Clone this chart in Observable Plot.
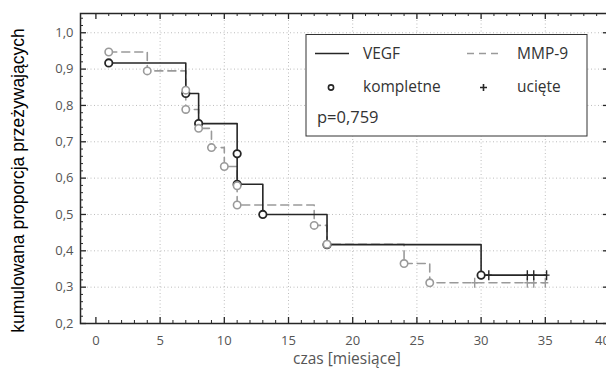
<!DOCTYPE html>
<html><head><meta charset="utf-8">
<script src="https://cdn.jsdelivr.net/npm/d3@7"></script>
<script src="https://cdn.jsdelivr.net/npm/@observablehq/plot@0.6"></script>
<style>
html,body{margin:0;padding:0;overflow:hidden;background:#fff;width:606px;height:374px}
#chart{position:relative;width:606px;height:374px;overflow:hidden}
#chart svg{max-width:none !important;height:374px !important}
</style></head>
<body><div id="chart"></div>
<script>
// ---- data ----
const vegfTime = [1, 7, 8, 11, 11, 13, 18, 30];
const vegfSurv = [0.917, 0.833, 0.75, 0.667, 0.583, 0.5, 0.417, 0.333];
const vegfCensor = [30.6, 33.6, 34.1, 35.1];
const mmpTime = [1, 4, 7, 7, 8, 9, 10, 11, 11, 17, 18, 24, 26];
const mmpSurv = [0.947, 0.895, 0.842, 0.789, 0.737, 0.684, 0.632, 0.579, 0.526, 0.47, 0.418, 0.365, 0.312];
const mmpCensor = [29.5, 33.6, 34.1, 35.0];
const xTicks = [0, 5, 10, 15, 20, 25, 30, 35, 40];
const yTicks = [0.2, 0.3, 0.4, 0.5, 0.6, 0.7, 0.8, 0.9, 1.0];
const seriesNames = ["VEGF", "MMP-9"];
const legendLabels = ["kompletne", "ucięte"];
const pValue = "p=0,759";
const xTitle = "czas [miesiące]";
const yTitle = "kumulowana proporcja przeżywających";

// ---- helpers ----
function levelAt(times, surv, t) {
  let v = surv[0];
  for (let i = 0; i < times.length; i++) if (times[i] <= t) v = surv[i];
  return v;
}
function stepData(times, surv, censor) {
  const pts = times.map((t, i) => ({x: t, y: surv[i]}));
  const end = d3.max(censor);
  pts.push({x: end, y: levelAt(times, surv, end)});
  return pts;
}
const vegfLine = stepData(vegfTime, vegfSurv, vegfCensor);
const mmpLine = stepData(mmpTime, mmpSurv, mmpCensor);
const vegfEvents = vegfTime.map((t, i) => ({x: t, y: vegfSurv[i]}));
const mmpEvents = mmpTime.map((t, i) => ({x: t, y: mmpSurv[i]}));
const vegfCens = vegfCensor.map(t => ({x: t, y: levelAt(vegfTime, vegfSurv, t)}));
const mmpCens = mmpCensor.map(t => ({x: t, y: levelAt(mmpTime, mmpSurv, t)}));

const xMinor = d3.range(0, 41, 1).filter(v => v % 5 !== 0);
const yMinor = d3.range(0.22, 1.05, 0.02).filter(v => Math.abs(Math.round(v * 10) - v * 10) > 1e-6);

const censorSymbol = {draw(ctx, size) { ctx.moveTo(0, -5); ctx.lineTo(0, 5); ctx.moveTo(-3, 0); ctx.lineTo(3, 0); }};

const mTop = 13, mBottom = 51, H = 374, plotH = H - mTop - mBottom;
const W = 612, mLeft = 80, mRight = 3, plotW = W - mLeft - mRight;

const dark = "#262626", gray = "#9a9a9a", grid = "#bdbdbd";
const xLast = xTicks[xTicks.length - 1];

const plot = Plot.plot({
  width: W, height: H,
  marginTop: mTop, marginBottom: mBottom, marginLeft: mLeft, marginRight: mRight,
  style: {fontFamily: "Open Sans", fontSize: "13px", background: "#fff", overflow: "visible", maxWidth: "none"},
  x: {domain: [-1.2, 40], label: null},
  y: {domain: [0.2, 1.053], label: null},
  marks: [
    // grid
    Plot.ruleX(xTicks.filter(d => d > 0 && d < xLast), {x: d => d, stroke: grid, strokeDasharray: "1,2.5"}),
    Plot.ruleY(yTicks.filter(d => d > 0.2), {y: d => d, stroke: grid, strokeDasharray: "1,2.5"}),
    // inward ticks: bottom/top
    Plot.ruleX(xTicks, {x: d => d, insetTop: plotH - 6, stroke: dark, strokeWidth: 1.3}),
    Plot.ruleX(xMinor, {x: d => d, insetTop: plotH - 3, stroke: dark, strokeWidth: 1}),
    Plot.ruleX(xTicks, {x: d => d, insetBottom: plotH - 6, stroke: dark, strokeWidth: 1.3}),
    Plot.ruleX(xMinor, {x: d => d, insetBottom: plotH - 3, stroke: dark, strokeWidth: 1}),
    // inward ticks: left/right
    Plot.ruleY(yTicks, {y: d => d, insetRight: plotW - 6, stroke: dark, strokeWidth: 1.3}),
    Plot.ruleY(yMinor, {y: d => d, insetRight: plotW - 3, stroke: dark, strokeWidth: 1}),
    Plot.ruleY(yTicks, {y: d => d, insetLeft: plotW - 6, stroke: dark, strokeWidth: 1.3}),
    Plot.ruleY(yMinor, {y: d => d, insetLeft: plotW - 3, stroke: dark, strokeWidth: 1}),
    // axes labels
    Plot.axisX(xTicks.filter(d => d < xLast), {tickSize: 0, tickPadding: 12, color: "#555", label: null, tickFormat: d => String(d)}),
    Plot.axisX([xLast], {tickSize: 0, tickPadding: 12, color: "#555", label: null, dx: -7, tickFormat: d => String(d)}),
    Plot.axisY(yTicks, {tickSize: 0, tickPadding: 7, color: "#555", label: null, tickFormat: d => d.toFixed(1).replace(".", ",")}),
    // series lines
    Plot.line(mmpLine, {x: "x", y: "y", curve: "step-after", stroke: gray, strokeWidth: 1.6, strokeDasharray: "8,5"}),
    Plot.line(vegfLine, {x: "x", y: "y", curve: "step-after", stroke: dark, strokeWidth: 1.6}),
    // censor marks
    Plot.dot(mmpCens, {x: "x", y: "y", symbol: censorSymbol, stroke: gray, strokeWidth: 1.4, fill: "none"}),
    Plot.dot(vegfCens, {x: "x", y: "y", symbol: censorSymbol, stroke: dark, strokeWidth: 1.4, fill: "none"}),
    // events
    Plot.dot(vegfEvents, {x: "x", y: "y", r: 3.7, fill: "white", stroke: dark, strokeWidth: 1.8}),
    Plot.dot(mmpEvents, {x: "x", y: "y", r: 3.7, fill: "white", stroke: gray, strokeWidth: 1.6}),
    Plot.frame({stroke: dark, strokeWidth: 1.5})
  ]
});
plot.style.maxWidth = "none";
plot.setAttribute("width", W);
plot.setAttribute("height", H);
document.getElementById("chart").appendChild(plot);

// ---- titles & legend ----
const svg = d3.select(plot);
svg.append("text").attr("transform", "translate(24,180.5) rotate(-90)")
  .attr("text-anchor", "middle").attr("font-family", "Liberation Sans, Arial, sans-serif")
  .attr("font-size", 17.5).attr("fill", "#000").text(yTitle);
svg.append("text").attr("x", 347).attr("y", 364).attr("text-anchor", "middle")
  .attr("font-family", "Open Sans").attr("font-size", 15.5).attr("fill", "#555").text(xTitle);

const lg = svg.append("g").attr("font-family", "Open Sans").attr("font-size", 15.5).attr("fill", "#333").attr("text-anchor", "start");
lg.append("rect").attr("x", 306).attr("y", 34.5).attr("width", 281).attr("height", 101.5)
  .attr("fill", "white").attr("stroke", "#333").attr("stroke-width", 1);
lg.append("line").attr("x1", 315).attr("x2", 349).attr("y1", 53.5).attr("y2", 53.5).attr("stroke", dark).attr("stroke-width", 1.6);
lg.append("line").attr("x1", 467).attr("x2", 501).attr("y1", 53.5).attr("y2", 53.5).attr("stroke", gray).attr("stroke-width", 1.6).attr("stroke-dasharray", "7,5");
lg.append("text").attr("x", 363).attr("y", 53.5).attr("dy", "0.35em").text(seriesNames[0]);
lg.append("text").attr("x", 517).attr("y", 53.5).attr("dy", "0.35em").text(seriesNames[1]);
lg.append("circle").attr("cx", 331).attr("cy", 87.5).attr("r", 2.6).attr("fill", "white").attr("stroke", dark).attr("stroke-width", 1.6);
lg.append("path").attr("d", "M483.5,84V91M480,87.5H487").attr("stroke", dark).attr("stroke-width", 1.6);
lg.append("text").attr("x", 363).attr("y", 86.5).attr("dy", "0.35em").text(legendLabels[0]);
lg.append("text").attr("x", 517).attr("y", 86.5).attr("dy", "0.35em").text(legendLabels[1]);
lg.append("text").attr("x", 317).attr("y", 117).attr("dy", "0.35em").attr("font-size", 16.5).text(pValue);
</script></body></html>
